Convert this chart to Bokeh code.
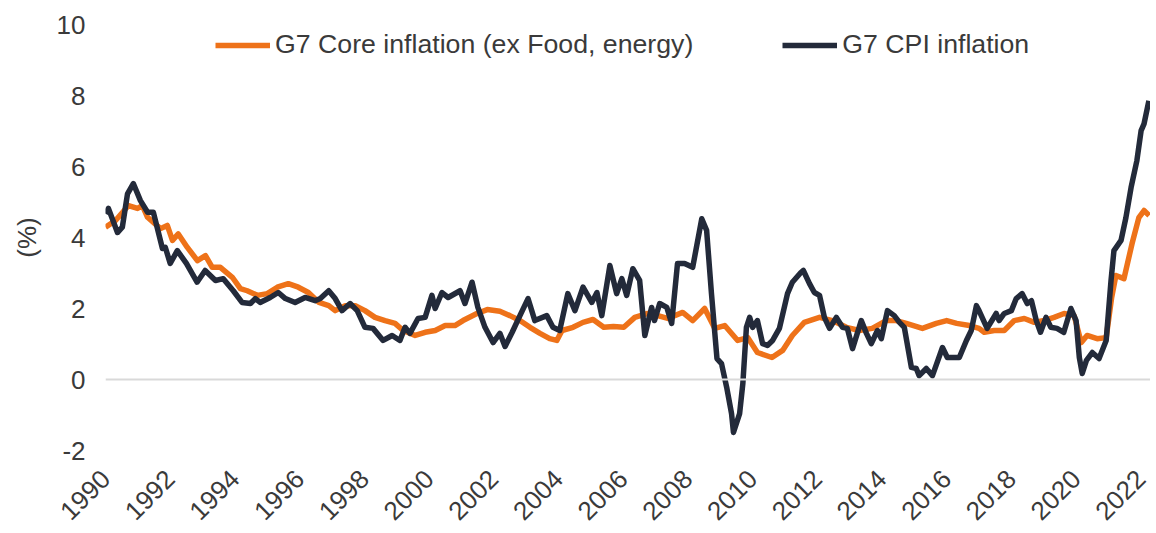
import math
from bokeh.plotting import figure
from bokeh.models import Span, FixedTicker, Legend, LegendItem, Range1d
from bokeh.embed import file_html
from bokeh.resources import INLINE

core_t = [1990.00, 1990.31, 1990.71, 1990.99, 1991.14, 1991.30, 1991.70, 1991.91, 1992.07, 1992.25,
          1992.53, 1992.84, 1993.09, 1993.30, 1993.55, 1993.92, 1994.17, 1994.38, 1994.69, 1995.00,
          1995.31, 1995.65, 1995.96, 1996.27, 1996.60, 1996.90, 1997.10, 1997.41, 1997.72, 1998.02,
          1998.33, 1998.64, 1998.95, 1999.20, 1999.57, 1999.88, 2000.19, 2000.50, 2000.80, 2001.05,
          2001.48, 2001.80, 2002.19, 2002.50, 2002.81, 2003.12, 2003.43, 2003.73, 2003.95, 2004.11,
          2004.45, 2004.76, 2005.07, 2005.40, 2005.70, 2006.02, 2006.36, 2006.76, 2007.07, 2007.38,
          2007.84, 2008.15, 2008.52, 2008.83, 2009.14, 2009.54, 2009.85, 2010.15, 2010.60, 2010.93,
          2011.23, 2011.60, 2012.07, 2012.47, 2012.90, 2013.30, 2013.70, 2014.13, 2014.44, 2014.75,
          2015.25, 2015.68, 2016.00, 2016.31, 2016.70, 2017.00, 2017.16, 2017.47, 2017.78, 2018.09,
          2018.40, 2018.71, 2019.01, 2019.32, 2019.63, 2019.94, 2020.16, 2020.34, 2020.65, 2020.93,
          2021.10, 2021.23, 2021.48, 2021.73, 2021.94, 2022.10, 2022.26]
core_v = [4.29, 4.48, 4.90, 4.82, 4.90, 4.57, 4.25, 4.34, 3.92, 4.10,
          3.72, 3.35, 3.49, 3.16, 3.16, 2.88, 2.56, 2.50, 2.37, 2.42,
          2.60, 2.70, 2.60, 2.45, 2.17, 2.08, 1.94, 2.08, 2.08, 1.94,
          1.75, 1.66, 1.58, 1.38, 1.24, 1.33, 1.38, 1.52, 1.52, 1.66,
          1.86, 1.97, 1.92, 1.80, 1.66, 1.47, 1.30, 1.15, 1.10, 1.38,
          1.47, 1.61, 1.69, 1.47, 1.49, 1.47, 1.75, 1.86, 1.80, 1.72,
          1.89, 1.66, 2.00, 1.44, 1.52, 1.10, 1.18, 0.76, 0.62, 0.82,
          1.24, 1.61, 1.75, 1.66, 1.47, 1.38, 1.44, 1.66, 1.66, 1.58,
          1.44, 1.58, 1.66, 1.58, 1.52, 1.44, 1.33, 1.38, 1.38, 1.66,
          1.72, 1.61, 1.66, 1.75, 1.86, 1.80, 1.04, 1.24, 1.15, 1.18,
          2.31, 2.93, 2.84, 3.83, 4.56, 4.76, 4.62]

cpi_t = [1990.00, 1990.09, 1990.37, 1990.52, 1990.68, 1990.86, 1991.08, 1991.30, 1991.48, 1991.76,
         1991.85, 1992.00, 1992.22, 1992.50, 1992.83, 1993.08, 1993.40, 1993.64, 1993.95, 1994.22,
         1994.48, 1994.63, 1994.78, 1995.09, 1995.34, 1995.56, 1995.86, 1996.17, 1996.48, 1996.64,
         1996.90, 1997.10, 1997.31, 1997.56, 1997.78, 1998.02, 1998.27, 1998.58, 1998.86, 1999.10,
         1999.26, 1999.41, 1999.66, 1999.88, 2000.09, 2000.19, 2000.40, 2000.59, 2000.96, 2001.11,
         2001.33, 2001.51, 2001.73, 2001.98, 2002.19, 2002.35, 2002.57, 2002.81, 2003.06, 2003.27,
         2003.64, 2003.83, 2004.04, 2004.29, 2004.51, 2004.76, 2005.03, 2005.19, 2005.34, 2005.59,
         2005.80, 2005.96, 2006.11, 2006.30, 2006.51, 2006.67, 2006.88, 2006.97, 2007.13, 2007.35,
         2007.50, 2007.68, 2007.90, 2008.15, 2008.43, 2008.58, 2008.73, 2008.90, 2009.04, 2009.20,
         2009.35, 2009.41, 2009.60, 2009.70, 2009.81, 2009.91, 2010.00, 2010.15, 2010.31, 2010.46,
         2010.62, 2010.83, 2011.08, 2011.23, 2011.50, 2011.57, 2011.76, 2011.91, 2012.07, 2012.22,
         2012.38, 2012.59, 2012.78, 2012.93, 2013.09, 2013.36, 2013.52, 2013.67, 2013.86, 2013.98,
         2014.17, 2014.38, 2014.54, 2014.69, 2014.91, 2015.06, 2015.15, 2015.37, 2015.56, 2015.87,
         2016.02, 2016.39, 2016.61, 2016.76, 2016.92, 2017.00, 2017.25, 2017.53, 2017.62, 2017.78,
         2018.00, 2018.15, 2018.33, 2018.49, 2018.62, 2018.77, 2018.90, 2019.07, 2019.22, 2019.41,
         2019.62, 2019.84, 2020.00, 2020.10, 2020.19, 2020.32, 2020.50, 2020.71, 2020.93, 2021.08,
         2021.17, 2021.39, 2021.54, 2021.70, 2021.88, 2022.01, 2022.10, 2022.25]
cpi_v = [4.67, 4.82, 4.14, 4.29, 5.23, 5.52, 5.04, 4.71, 4.71, 3.69,
         3.72, 3.27, 3.63, 3.27, 2.74, 3.07, 2.79, 2.84, 2.50, 2.17,
         2.14, 2.28, 2.17, 2.31, 2.45, 2.28, 2.17, 2.31, 2.22, 2.28,
         2.50, 2.28, 1.94, 2.14, 1.94, 1.47, 1.44, 1.10, 1.24, 1.10,
         1.47, 1.30, 1.72, 1.75, 2.37, 2.00, 2.45, 2.31, 2.50, 2.14,
         2.74, 2.03, 1.47, 1.04, 1.30, 0.93, 1.33, 1.80, 2.28, 1.66,
         1.80, 1.47, 1.38, 2.42, 1.94, 2.60, 2.17, 2.45, 1.80, 3.21,
         2.42, 2.84, 2.37, 3.12, 2.79, 1.24, 2.03, 1.66, 2.14, 2.03,
         1.58, 3.27, 3.27, 3.16, 4.53, 4.20, 2.42, 0.59, 0.45, -0.22,
         -0.96, -1.49, -0.96, -0.11, 1.47, 1.75, 1.47, 1.66, 1.01, 0.96,
         1.10, 1.44, 2.42, 2.74, 3.02, 3.07, 2.70, 2.45, 2.37, 1.75,
         1.44, 1.75, 1.47, 1.44, 0.87, 1.66, 1.30, 1.01, 1.38, 1.15,
         1.94, 1.80, 1.61, 1.47, 0.34, 0.31, 0.11, 0.31, 0.11, 0.90,
         0.62, 0.62, 1.10, 1.38, 2.08, 1.94, 1.44, 1.86, 1.66, 1.86,
         1.94, 2.28, 2.42, 2.14, 2.22, 1.66, 1.33, 1.75, 1.47, 1.44,
         1.33, 2.00, 1.66, 0.62, 0.17, 0.54, 0.76, 0.59, 1.10, 2.79,
         3.63, 3.92, 4.56, 5.41, 6.17, 7.01, 7.20, 7.85]

tick_years = list(range(1990, 2023, 2))
y_ticks = [-2, 0, 2, 4, 6, 8, 10]
y_tick_labels = ["-2", "0", "2", "4", "6", "8", "10"]
series_names = ["G7 Core inflation (ex Food, energy)", "G7 CPI inflation"]

FONT = "Liberation Sans"
TXT = "#3a3a3a"
ORANGE = "#EE7219"
NAVY = "#232A3A"

p = figure(frame_width=1045, frame_height=426, output_backend="svg", toolbar_location=None,
           x_range=Range1d(1990, 2022.3), y_range=Range1d(-2, 10),
           min_border_left=105, min_border_right=0, min_border_top=24, min_border_bottom=70)
p.outline_line_color = None
p.xgrid.visible = False
p.ygrid.visible = False

p.add_layout(Span(location=0, dimension="width", line_color="#D9D9D9", line_width=2))

r_core = p.line(core_t, core_v, line_color=ORANGE, line_width=5.5, line_join="round")
r_cpi = p.line(cpi_t, cpi_v, line_color=NAVY, line_width=5.5, line_join="round")

p.xaxis.ticker = FixedTicker(ticks=tick_years)
p.xaxis.major_label_overrides = {y: str(y) for y in tick_years}
p.xaxis.major_label_orientation = math.pi / 4
p.yaxis.ticker = FixedTicker(ticks=y_ticks)
p.yaxis.major_label_overrides = dict(zip(y_ticks, y_tick_labels))
p.yaxis.axis_label = "(%)"
for ax in (p.xaxis[0], p.yaxis[0]):
    ax.axis_line_color = None
    ax.major_tick_line_color = None
    ax.minor_tick_line_color = None
    ax.major_tick_out = 0
    ax.major_label_text_font = FONT
    ax.major_label_text_font_size = "26px"
    ax.major_label_text_color = TXT
p.xaxis.major_label_standoff = 24
p.yaxis.major_label_standoff = 20
p.yaxis.axis_label_text_font = FONT
p.yaxis.axis_label_text_font_size = "26px"
p.yaxis.axis_label_text_font_style = "normal"
p.yaxis.axis_label_text_color = TXT
p.yaxis.axis_label_standoff = 12

legend = Legend(items=[LegendItem(label=series_names[0], renderers=[r_core]),
                       LegendItem(label=series_names[1], renderers=[r_cpi])],
                orientation="horizontal", location=(110, 390),
                label_text_font=FONT, label_text_font_size="26.7px", label_text_color=TXT,
                glyph_width=55, glyph_height=26, label_standoff=5, spacing=89,
                padding=0, margin=0, border_line_alpha=0, background_fill_alpha=0)
p.add_layout(legend, "center")

open("out.html", "w").write(file_html(p, INLINE))
